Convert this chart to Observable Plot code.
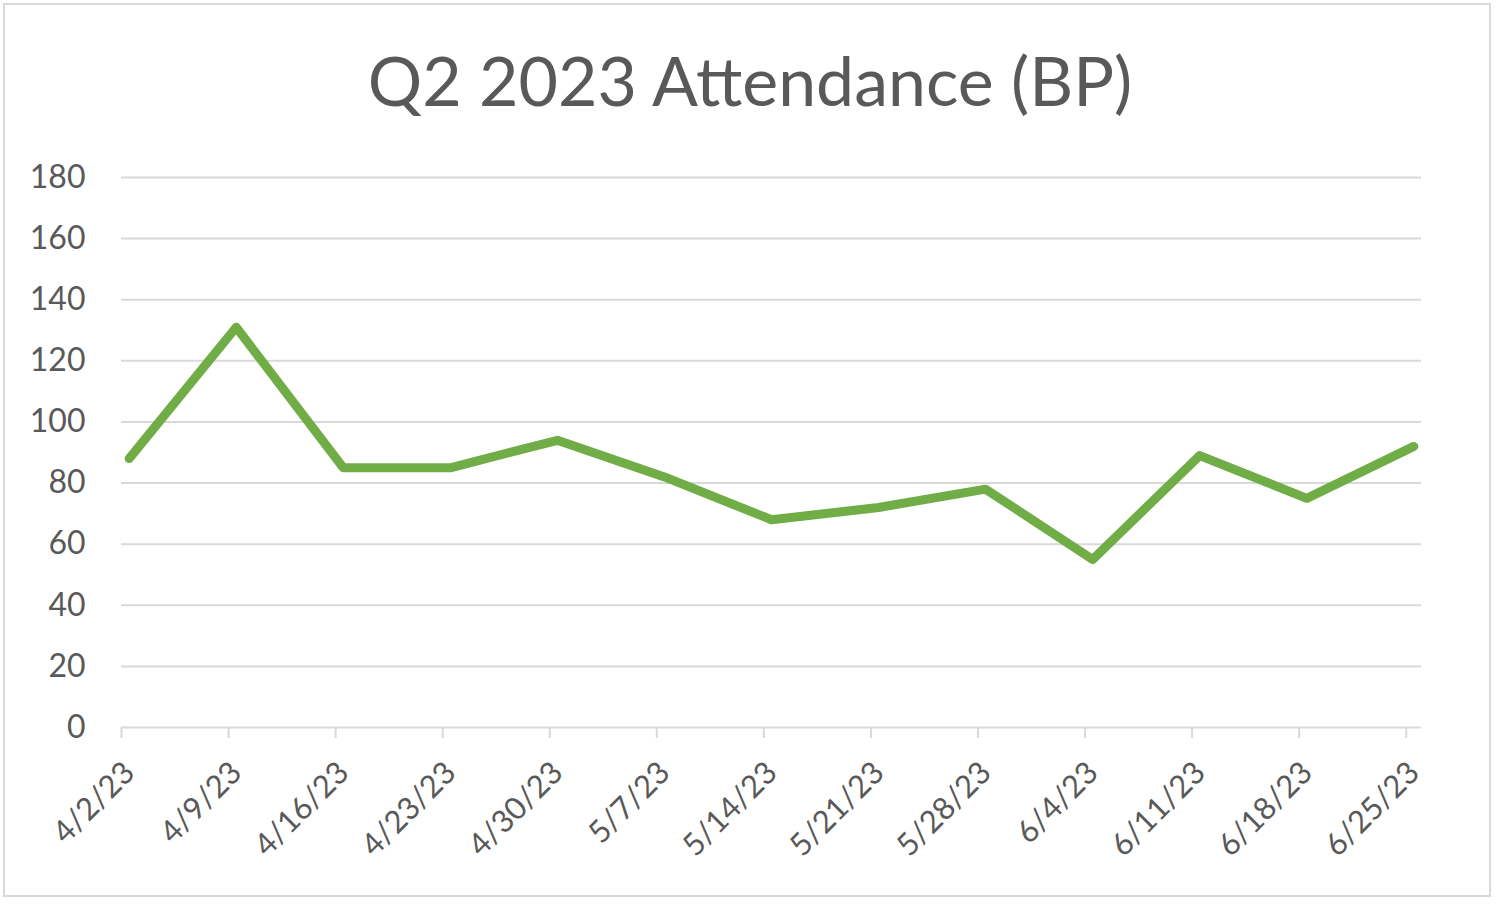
<!DOCTYPE html>
<html>
<head>
<meta charset="utf-8">
<script src="https://cdn.jsdelivr.net/npm/d3@7"></script>
<script src="https://cdn.jsdelivr.net/npm/@observablehq/plot@0.6"></script>
<style>
  html, body { margin: 0; padding: 0; background: #fff; }
  #page { position: relative; width: 1500px; height: 905px; overflow: hidden; background: #fff; }
  #border { position: absolute; z-index: 2; left: 3px; top: 3px; width: 1488px; height: 894px; border: 2px solid #d9d9d9; box-sizing: border-box; }
  #title { position: absolute; left: 0; top: 46px; width: 1500px; text-align: center;
           font-family: Lato, "Open Sans", sans-serif; font-size: 68px; line-height: 1; color: #595959; }
  #chart { position: absolute; left: 0; top: 150px; }
</style>
</head>
<body>
<div id="page">
  <div id="title">Q2 2023 Attendance (BP)</div>
  <div id="chart"></div>
  <div id="border"></div>
</div>
<script>
const weeks = ["2023-04-02","2023-04-09","2023-04-16","2023-04-23","2023-04-30","2023-05-07","2023-05-14",
               "2023-05-21","2023-05-28","2023-06-04","2023-06-11","2023-06-18","2023-06-25"];
const attendance = [88, 131, 85, 85, 94, 82, 68, 72, 78, 55, 89, 75, 92];
const yTicks = [0, 20, 40, 60, 80, 100, 120, 140, 160, 180];
const axisStart = "2023-04-02";
const axisEnd = "2023-06-26";

const parse = d3.utcParse("%Y-%m-%d");
const tickDates = weeks.map(parse);
// Excel date axis: each value sits in the middle of its one-day slot
const data = weeks.map((w, i) => ({date: d3.utcHour.offset(parse(w), 12), value: attendance[i]}));

const chart = Plot.plot({
  width: 1500,
  height: 750,
  marginLeft: 121,
  marginRight: 79,
  marginTop: 27,
  marginBottom: 173,
  style: {fontFamily: "Lato, 'Open Sans', sans-serif", color: "#595959", background: "transparent"},
  x: {type: "utc", domain: [parse(axisStart), parse(axisEnd)]},
  y: {domain: [0, 180]},
  marks: [
    Plot.ruleY(yTicks, {stroke: "#d9d9d9", strokeWidth: 2}),
    Plot.axisY({ticks: yTicks, tickSize: 0, tickPadding: 36, fontSize: 32, fill: "#595959", label: null}),
    // tick marks only
    Plot.axisX({ticks: tickDates, tickFormat: () => "", tickSize: 11, stroke: "#d9d9d9", strokeWidth: 2, label: null}),
    // rotated labels
    Plot.axisX({ticks: tickDates, tickFormat: d3.utcFormat("%-m/%-d/%y"), tickRotate: -45,
                tickSize: 0, tickPadding: 40, dx: 8, fontSize: 31, fill: "#595959", label: null}),
    Plot.lineY(data, {x: "date", y: "value", stroke: "#70ad47", strokeWidth: 9,
                      strokeLinejoin: "round", strokeLinecap: "round"})
  ]
});
document.getElementById("chart").appendChild(chart);
</script>
</body>
</html>
